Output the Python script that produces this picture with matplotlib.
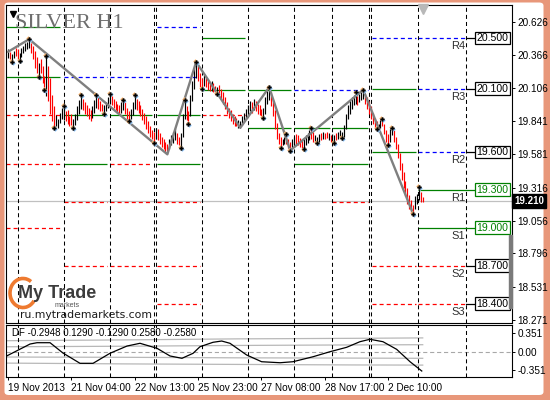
import numpy as np
import matplotlib
matplotlib.use("Agg")
import matplotlib.pyplot as plt
from matplotlib.patches import FancyBboxPatch, Rectangle, Arc

plt.rcParams['lines.scale_dashes'] = False
plt.rcParams['font.family'] = ['Liberation Sans', 'DejaVu Sans']

# ---------------- data (H1 bars, prices in cents) ----------------
highs_c = [2041, 2039, 2037, 2040, 2042, 2041, 2038, 2042, 2044, 2046, 2047, 2049,
           2046, 2044, 2040, 2035, 2030, 2033, 2028, 2020, 2036, 2028, 2018, 2005, 1996,
           1989, 1986, 1991, 1995, 1996, 1992, 1993, 1988, 1990, 1986,
           1990, 1996, 2001, 2005, 2002, 1999, 1997, 1995, 1993, 1996, 2001, 2005, 2003, 2000, 1998, 1997, 1999, 2003, 2006,
           2004, 2002, 2000, 1998, 1997, 1999, 2001, 1999, 1995, 1992, 1994, 1999, 2005,
           2002, 2000, 1997, 1994, 1991, 1988, 1984, 1980, 1977, 1976, 1979, 1978, 1975, 1972, 1970, 1968, 1966,
           1970, 1973, 1976, 1979, 1975, 1972, 1975, 1990, 2001, 1996, 1992, 2005, 2016, 2026, 2031,
           2028, 2022, 2018, 2021, 2019, 2017, 2015, 2016, 2014, 2012, 2011, 2013, 2010, 2007, 2003, 1999, 1995, 1993, 1990, 1988, 1987, 1985, 1984,
           1988, 1991, 1994, 1997, 2000, 1999, 2002, 2000, 1998, 1997, 1994, 1995, 2003, 2008, 2011,
           2007, 2001, 1993, 1983, 1975, 1972, 1970, 1972, 1974, 1970, 1968,
           1970, 1972, 1974, 1973, 1971, 1969, 1970, 1973, 1975, 1977, 1979, 1976, 1973, 1972, 1974, 1975, 1976,
           1975, 1976, 1975, 1973, 1974, 1973, 1975, 1976, 1977, 1976, 1981, 1990, 1997, 2001, 2003, 2005, 2007,
           2004, 2006, 2007, 2009, 2006, 2003, 2000, 1996, 1991, 1987, 1984, 1982, 1985, 1986, 1982, 1977, 1974, 1978, 1979,
           1977, 1972, 1966, 1959, 1951, 1944, 1937, 1931, 1926, 1922, 1918, 1925, 1927, 1932, 1928, 1924]
lows_c = [2034, 2033, 2031, 2034, 2036, 2033, 2032, 2035, 2038, 2040, 2041, 2042,
          2038, 2033, 2026, 2022, 2019, 2022, 2014, 2009, 2004, 2000, 1990, 1984, 1979,
          1980, 1979, 1983, 1986, 1985, 1984, 1982, 1980, 1981, 1979,
          1981, 1985, 1990, 1994, 1993, 1990, 1988, 1986, 1984, 1987, 1991, 1995, 1994, 1992, 1992, 1990, 1992, 1995, 1998,
          1997, 1995, 1993, 1991, 1990, 1991, 1993, 1990, 1986, 1984, 1986, 1989, 1994,
          1993, 1991, 1988, 1985, 1982, 1978, 1975, 1972, 1970, 1967, 1970, 1969, 1966, 1964, 1962, 1960, 1958,
          1962, 1965, 1967, 1969, 1966, 1965, 1963, 1972, 1986, 1985, 1982, 1988, 2000, 2010, 2018,
          2016, 2011, 2010, 2012, 2011, 2009, 2008, 2008, 2007, 2006, 2006, 2005, 2002, 1998, 1994, 1990, 1987, 1984, 1982, 1980, 1980, 1979, 1979,
          1981, 1984, 1987, 1989, 1992, 1991, 1993, 1992, 1990, 1989, 1988, 1987, 1990, 1998, 2001,
          1996, 1988, 1978, 1970, 1966, 1963, 1965, 1966, 1966, 1963, 1961,
          1963, 1965, 1966, 1965, 1964, 1963, 1962, 1965, 1967, 1969, 1970, 1968, 1967, 1967, 1968, 1969, 1970,
          1970, 1971, 1969, 1968, 1968, 1967, 1969, 1970, 1971, 1971, 1972, 1978, 1986, 1990, 1994, 1997, 1998,
          1997, 1999, 2001, 2002, 1998, 1994, 1990, 1986, 1982, 1979, 1978, 1978, 1979, 1980, 1974, 1968, 1965, 1968, 1973,
          1968, 1962, 1955, 1946, 1938, 1931, 1925, 1919, 1915, 1912, 1911, 1915, 1919, 1922, 1920, 1920]
bar_dir = ("krkkrrkkkkkk" "rrrrkrrrkrrrr" "kkkkkrrrrk" "kkkkrrrrrkkkrrrkkkk" "rrrrrkkrrrkkk"
           "rrrrrrrrrrkrrrrrr" "kkkkrrkkkrrkkkk" "rrrkrrrkrrkrrrrrrrrrrkk" "kkkkkrkrrrrkkkk"
           "rrrrrrkkrrr" "kkrrrrkkkkrrkkkrkrrkrkkrkkkkkkkkkk" "rkkkrrrrrrrkkrrrrkk" "rrrrrrrrrrrkkkrr")

fractal_up = [11, 20, 29, 38, 46, 53, 60, 66, 92, 98, 136, 145, 158, 181, 185, 195, 200, 214]
fractal_dn = [2, 6, 16, 19, 24, 34, 50, 63, 76, 90, 94, 101, 109, 133, 142, 147, 154, 161, 170, 174, 192, 198, 211]

zz_idx = [0, 11, 83, 98, 121, 136, 147, 185, 211]
zz_price = [20.39, 20.49, 19.58, 20.31, 19.79, 20.11, 19.61, 20.09, 19.11]

separators = [5, 29, 53, 76, 77, 101, 125, 149, 169, 188, 189, 213.5, 238.5]

day_start = [-1.0, 29, 53, 77.5, 101, 125, 149, 168.8, 189.6, 213.5]
day_end = [27, 51.5, 75, 99.8, 123.4, 147.4, 167.7, 187.5, 212.5, 238.5]
day_levels = [[20.59, 20.19, 19.89, 19.50, 19.00],
              [20.19, 19.89, 19.50, 19.20, 18.70],
              [20.19, 19.89, 19.50, 19.20, 18.70],
              [20.59, 20.19, 19.89, 19.50, 19.20, 18.70, 18.40],
              [20.50, 20.09, 19.89],
              [20.09, 19.79],
              [20.09, 19.79, 19.50],
              [20.09, 19.79, 19.50, 19.20],
              [20.50, 20.10, 19.60, 18.70, 18.40],
              [20.50, 20.10, 19.60, 19.30, 19.00, 18.70, 18.40]]
day_kinds = ["ggrrr", "bggrr", "bgrrr", "bbggrrr", "ggr", "gg", "bgg", "bggr", "bggrr", "bbbggrr"]
level_names = ["R4", "R3", "R2", "R1", "S1", "S2", "S3"]

current_price = 19.21
price_ticks = [20.626, 20.366, 20.106, 19.841, 19.581, 19.316, 19.056, 18.796, 18.531, 18.271]

time_idx = [0, 33, 66, 99, 132, 165, 198]
time_labels = ["19 Nov 2013", "21 Nov 04:00", "22 Nov 13:00", "25 Nov 23:00",
               "27 Nov 08:00", "28 Nov 17:00", "2 Dec 10:00"]

df_idx = [-0.7, 11.5, 15.1, 21.9, 28.6, 37.5, 44.3, 53.1, 62, 68.75, 77.6, 84.4, 90.6, 96.4, 100,
          106.8, 111.3, 115.6, 124.3, 132.1, 141.7, 148.4, 158.9, 167.7, 176.4, 183.3, 188.5,
          195.3, 202.4, 209.4, 215.5]
df_val = [-0.085, 0.142, 0.167, 0.167, -0.028, -0.224, -0.224, -0.034, 0.104, 0.156, 0.061, -0.085,
          -0.129, -0.034, 0.091, 0.175, 0.199, 0.156, -0.066, -0.194, -0.213, -0.194, -0.099, -0.004,
          0.08, 0.186, 0.232, 0.186, 0.042, -0.194, -0.37]
band_idx = [-1, 60, 120, 180, 216]
band_up2 = [0.205, 0.22, 0.24, 0.25, 0.258]
band_up1 = [0.09, 0.10, 0.115, 0.125, 0.129]
band_dn1 = [-0.105, -0.11, -0.12, -0.125, -0.129]
band_dn2 = [-0.22, -0.235, -0.245, -0.255, -0.258]
df_text = "DF -0.2948 0.1290 -0.1290 0.2580 -0.2580"
df_ticks = [0.351, 0.0, -0.351]
df_ticklabels = ["0.351", "0.00", "-0.351"]

# ---------------- figure ----------------
W, H = 550, 400
fig = plt.figure(figsize=(5.5, 4), dpi=100)
fig.patch.set_facecolor('#E8977A')
fig.patches.append(FancyBboxPatch((4.5 / W, 5 / H), 539 / W, 392.5 / H,
                                  boxstyle='round,pad=0,rounding_size=0.008',
                                  transform=fig.transFigure, fc='white', ec='none', zorder=-10))


def px_axes(x0, y0, x1, y1, **kw):
    return fig.add_axes([x0 / W, 1 - y1 / H, (x1 - x0) / W, (y1 - y0) / H], **kw)


ax = px_axes(6, 5, 512, 323, zorder=1)
ax2 = px_axes(6, 325, 512, 376.7, zorder=1)
XL = (-1.04, 262.5)
for a in (ax, ax2):
    a.set_xlim(*XL)
    a.set_facecolor('white')
    for s in a.spines.values():
        s.set_color('black')
        s.set_linewidth(0.8)

ax.set_ylim(18.2466, 20.7604)
ax2.set_ylim(-0.478, 0.503)

highs = np.array(highs_c) / 100.0
lows = np.array(lows_c) / 100.0
idx = np.arange(len(highs))

dash = (0, (2.9, 2.2))
# separators
for a in (ax, ax2):
    for s in separators:
        a.axvline(s, color='black', lw=0.75, ls=dash, zorder=1.5)

# daily levels
styles = {'g': dict(color='#008000', ls='-'),
          'b': dict(color='#0000FF', ls=dash),
          'r': dict(color='#FF0000', ls=dash)}
for d0, d1, levs, kinds in zip(day_start, day_end, day_levels, day_kinds):
    for p, k in zip(levs, kinds):
        ax.hlines(p, d0, d1, lw=0.9, zorder=1.2, **styles[k])

ax.axhline(current_price, color='#C0C0C0', lw=0.9, zorder=1.1)

# bars
cols = ['#000000' if c == 'k' else '#FF0000' for c in bar_dir]
ax.vlines(idx, lows, highs, colors=cols, lw=0.85, zorder=3)

# zigzag
ax.plot(zz_idx, zz_price, color='#7F7F7F', lw=1.7, zorder=4, solid_capstyle='round')

# fractals
fu = np.array(fractal_up)
fd = np.array(fractal_dn)
for arr, vals in ((fu, highs[fu]), (fd, lows[fd])):
    ax.plot(arr + 0.5, vals - 0.006, ls='none', marker='D', ms=2.4, mfc='#9CCFFF', mec='none', zorder=4.5)
    ax.plot(arr - 0.5, vals + 0.006, ls='none', marker='D', ms=2.4, mfc='#FFC080', mec='none', zorder=4.6)
    ax.plot(arr, vals, ls='none', marker='P', ms=3.0, mfc='black', mec='black', mew=0.2, zorder=5)


def fx(px):
    return (px - 6) / 506.0


ytr = ax.get_yaxis_transform()
levs9, kinds9 = day_levels[-1], day_kinds[-1]
for name, p, k in zip(level_names, levs9, kinds9):
    c = '#008000' if k == 'g' else 'black'
    ax.plot([fx(466), fx(475)], [p, p], color=c, lw=0.9, transform=ytr, zorder=2)
    ax.text(fx(492.5), p, f"{p:.3f}", transform=ytr, ha='center', va='center', fontsize=7.6,
            color=c, zorder=6,
            bbox=dict(boxstyle='square,pad=0.12', fc='white', ec=c, lw=0.9))
    ax.text(fx(465), p - 0.063, name, transform=ytr, ha='right', va='center', fontsize=8,
            color='#303030', zorder=6)

ax.text(1.004, current_price, f"{current_price:.3f}", transform=ytr, ha='left', va='center',
        fontsize=7, color='white', weight='bold', zorder=7, clip_on=False,
        bbox=dict(boxstyle='square,pad=0.2', fc='black', ec='black'))

# axis ticks
ax.set_xticks([])
ax.yaxis.tick_right()
ax.set_yticks(price_ticks)
ax.set_yticklabels([f"{v:.3f}" for v in price_ticks])
ax.tick_params(axis='y', length=2.5, width=0.7, pad=1.5, labelsize=7.2, colors='black')

# indicator
ax2.axhline(0, color='#A8A8A8', lw=0.8, ls=(0, (3, 2)), zorder=1)
for b in (band_up2, band_up1, band_dn1, band_dn2):
    ax2.plot(band_idx, b, color='#B8B8B8', lw=0.9, zorder=1.3)
ax2.plot(df_idx, df_val, color='black', lw=0.9, zorder=3)
ax2.yaxis.tick_right()
ax2.set_yticks(df_ticks)
ax2.set_yticklabels(df_ticklabels)
ax2.tick_params(axis='y', length=2.5, width=0.7, pad=1.5, labelsize=7.2)
ax2.set_xticks(time_idx)
ax2.set_xticklabels(time_labels, ha='left')
ax2.tick_params(axis='x', length=2.5, width=0.7, pad=2, labelsize=7.2)

# overlay (pixel coordinates)
ov = fig.add_axes([0, 0, 1, 1], zorder=10)
ov.set_xlim(0, W)
ov.set_ylim(H, 0)
ov.axis('off')
ov.patch.set_alpha(0)

ov.text(15, 27.5, "SILVER H1", fontsize=16, family=['Liberation Serif', 'DejaVu Serif'],
        color='#6E6E6E', va='baseline')
ov.plot(13, 14, marker='v', ms=4, color='black')
ov.plot(423, 9, marker='v', ms=7, color='#B8B8B8')
ov.add_patch(Rectangle((509, 235), 3, 73, color='#7A7A7A'))

ov.add_patch(Arc((23, 293), 26, 29, theta1=35, theta2=305, color='#EE7A30', lw=2.6))
ov.text(18, 298, "My Trade", fontsize=13, weight='bold', color='#3C3C3C', va='baseline')
ov.text(55, 307, "markets", fontsize=5, color='#555555', va='baseline')
ov.text(20, 318, "ru.mytrademarkets.com", fontsize=7.8, family=['DejaVu Sans'],
        color='#1A1A1A', va='baseline')
ov.text(12, 333.5, df_text, fontsize=7, color='black', va='center')

fig.savefig("out.png", dpi=100, facecolor=fig.get_facecolor())
